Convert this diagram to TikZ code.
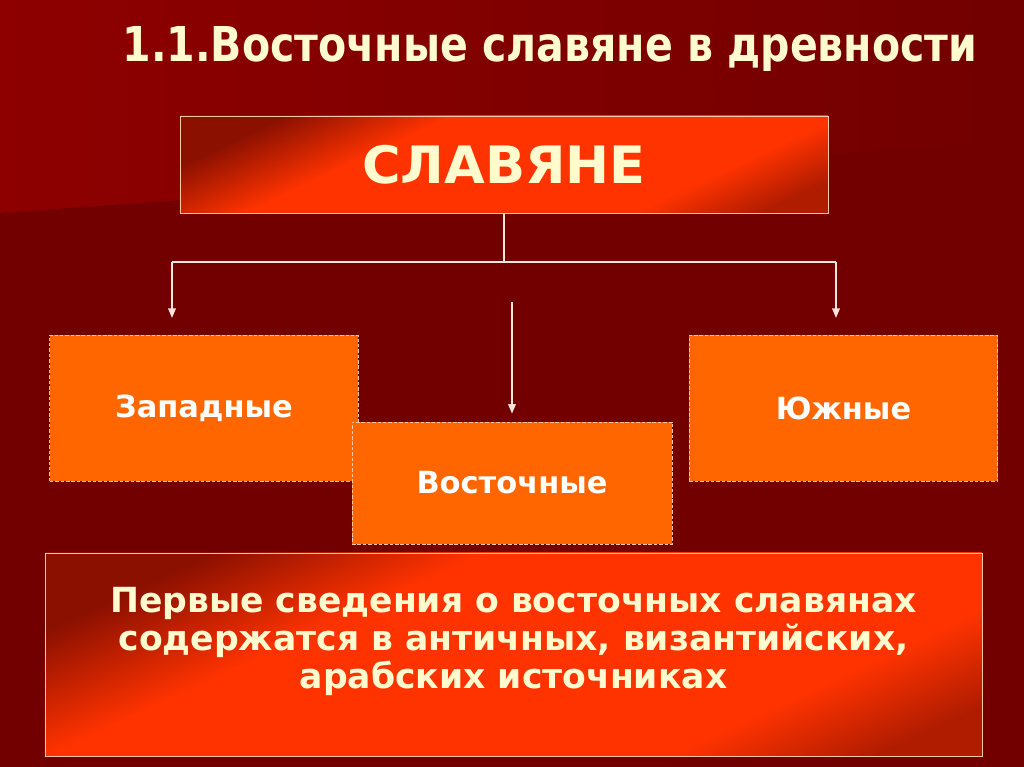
\documentclass[tikz,border=0pt]{standalone}
\usepackage{fontspec}
\setmainfont{DejaVu Sans}
\newfontfamily\narrowfont{DejaVu Sans Condensed}
\usetikzlibrary{positioning,arrows.meta}
\definecolor{bgdark}{HTML}{720000}
\definecolor{bglight}{HTML}{8E0000}
\definecolor{cream}{HTML}{FFFBCF}
\definecolor{orangebox}{HTML}{FF6600}
\definecolor{redbright}{HTML}{FF3300}
\definecolor{reddark}{HTML}{8C1000}
\definecolor{redlow}{HTML}{B01C00}
\definecolor{rimcol}{HTML}{F6C8AA}
\definecolor{linkcol}{HTML}{FBE4DC}
\pgfdeclarehorizontalshading{slideshade}{100bp}{color(0bp)=(reddark); color(25bp)=(reddark); color(38bp)=(redbright); color(68bp)=(redbright); color(78bp)=(redlow); color(100bp)=(redlow)}
\tikzset{
>={Triangle[length=8pt,width=6.5pt]},
  headbox/.style={
    rectangle,
    shading=slideshade, shading angle=-65,
    draw=rimcol, line width=0.8pt,
    text=cream,
    text centered},
  kindbox/.style={
    rectangle,
    fill=orangebox,
    draw=rimcol, line width=0.8pt, dash pattern=on 3pt off 1.6pt,
    text=white,
    minimum width=9.25cm,
    font=\bfseries\fontsize{26}{31}\selectfont,
    text centered},
  link/.style={draw=linkcol, line width=1.1pt},
}
\begin{document}
\begin{tikzpicture}[x=0.03cm, y=-0.03cm]
    \useasboundingbox (0,0) rectangle (1024,767);
    % background of the slide
    \fill[bgdark] (0,0) rectangle (1024,767);
    \shade[left color=bglight, right color=bgdark] (0,0) -- (1024,0) -- (1024,140) -- (0,213) -- cycle;

    \node[text=cream, font=\narrowfont\bfseries\fontsize{41}{48}\selectfont] (title) at (550,49)
        {\scalebox{0.95}[1]{1.1.Восточные славяне в древности}};

    \node[headbox, minimum width=19.44cm, minimum height=2.91cm,
          font=\bfseries\fontsize{44}{52}\selectfont] (slavs) at (504,164.5)
        {\scalebox{1.02}[1]{СЛАВЯНЕ}};

    \node[kindbox, minimum height=4.38cm] (west) at (204,408) {Западные};
    \node[kindbox, minimum width=9.6cm, minimum height=3.66cm] (east) at (512,483) {Восточные};
    \node[kindbox, minimum height=4.38cm] (south) at (843.5,408) {Южные};

    \node[headbox, minimum width=28.11cm, minimum height=6.09cm, align=center, text depth=1cm,
          font=\bfseries\fontsize{29.5}{32.5}\selectfont] (sources) at (513.5,654.5)
        {Первые сведения о восточных славянах\\
         содержатся в античных, византийских,\\
         арабских источниках};

    \coordinate (fork) at (504,262);
    \coordinate (forkL) at (172,262);
    \coordinate (forkR) at (836,262);
    \coordinate (midtail) at (512,302);

    \path[link] (slavs.south) -- (fork);
    \path[link] (forkL) -- (forkR);
    \path[link, ->, shorten >=0.5cm] (forkL) -- (forkL |- west.north);
    \path[link, ->, shorten >=0.5cm] (forkR) -- (forkR |- south.north);
    \path[link, ->, shorten >=0.24cm] (midtail) -- (east.north);
\end{tikzpicture}
\end{document}
